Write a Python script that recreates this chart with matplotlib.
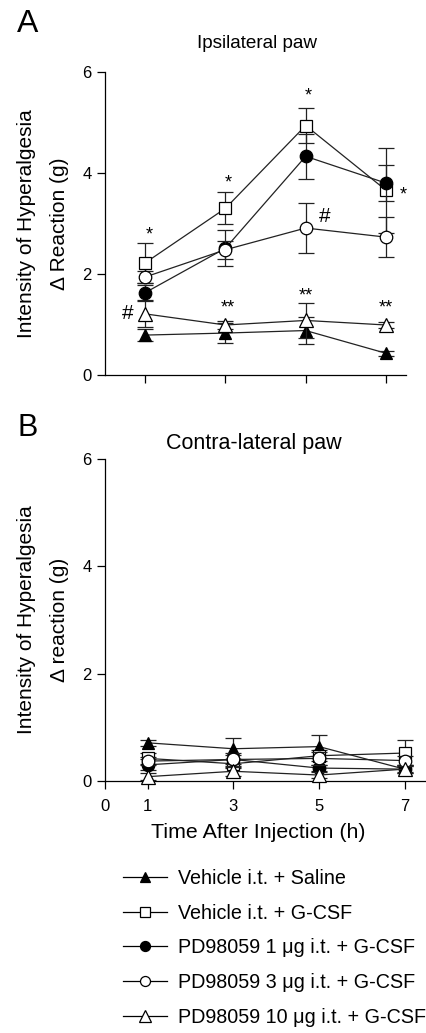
import numpy as np
import matplotlib
matplotlib.use("Agg")
import matplotlib.pyplot as plt
from matplotlib.lines import Line2D

plt.rcParams["font.family"] = ["Liberation Sans", "DejaVu Sans"]

# time points (h)
hours = [1, 3, 5, 7]

groups = [
    "Vehicle i.t. + Saline",
    "Vehicle i.t. + G-CSF",
    "PD98059 1 \u03bcg i.t. + G-CSF",
    "PD98059 3 \u03bcg i.t. + G-CSF",
    "PD98059 10 \u03bcg i.t. + G-CSF",
]

# Ipsilateral paw: mean and SEM
ipsi_saline = [0.79, 0.83, 0.88, 0.43]
ipsi_saline_err = [0.12, 0.20, 0.26, 0.05]
ipsi_gcsf = [2.22, 3.30, 4.94, 3.66]
ipsi_gcsf_err = [0.40, 0.32, 0.35, 0.84]
ipsi_pd1 = [1.63, 2.51, 4.33, 3.80]
ipsi_pd1_err = [0.15, 0.36, 0.45, 0.36]
ipsi_pd3 = [1.94, 2.48, 2.91, 2.73]
ipsi_pd3_err = [0.12, 0.18, 0.50, 0.39]
ipsi_pd10 = [1.21, 0.99, 1.08, 0.99]
ipsi_pd10_err = [0.25, 0.08, 0.35, 0.05]

# Contra-lateral paw: mean and SEM
contra_saline = [0.71, 0.60, 0.64, 0.22]
contra_saline_err = [0.05, 0.20, 0.22, 0.08]
contra_gcsf = [0.42, 0.32, 0.47, 0.52]
contra_gcsf_err = [0.10, 0.08, 0.10, 0.24]
contra_pd1 = [0.30, 0.40, 0.24, 0.22]
contra_pd1_err = [0.10, 0.12, 0.06, 0.08]
contra_pd3 = [0.37, 0.40, 0.42, 0.38]
contra_pd3_err = [0.08, 0.08, 0.12, 0.08]
contra_pd10 = [0.08, 0.18, 0.11, 0.22]
contra_pd10_err = [0.06, 0.08, 0.06, 0.06]

# significance marks on panel A: (x, y, text)
ipsi_marks = [
    (1.1, 2.78, "*"), (3.06, 3.80, "*"), (5.06, 5.52, "*"), (7.43, 3.56, "*"),
    (5.48, 3.13, "#"), (0.57, 1.22, "#"),
    (3.05, 1.33, "**"), (5.0, 1.56, "**"), (7.0, 1.33, "**"),
]

styles = [
    dict(marker="^", mfc="black", ms=9),
    dict(marker="s", mfc="white", ms=8.5),
    dict(marker="o", mfc="black", ms=9),
    dict(marker="o", mfc="white", ms=9),
    dict(marker="^", mfc="white", ms=10),
]
draw_order = [0, 4, 3, 2, 1]


def draw_panel(ax, means, errs):
    for i in draw_order:
        st = styles[i]
        ax.errorbar(hours, means[i], yerr=errs[i], color="#222222", lw=0.9,
                    marker=st["marker"], ms=st["ms"], mfc=st["mfc"], mec="black",
                    mew=0.9, ecolor="#222222", elinewidth=0.9, capsize=6,
                    capthick=0.9, clip_on=False, zorder=3 + i)
    ax.set_ylim(0, 6)
    ax.set_xlim(0, 7.5)
    ax.set_yticks([0, 2, 4, 6])
    ax.spines["top"].set_visible(False)
    ax.spines["right"].set_visible(False)
    ax.spines["left"].set_linewidth(0.9)
    ax.spines["bottom"].set_linewidth(0.9)
    ax.tick_params(direction="out", length=6, width=0.9, labelsize=12)


fig = plt.figure(figsize=(4.26, 10.33), dpi=100)

ax1 = fig.add_axes([0.2465, 0.637, 0.7066, 0.2933])
draw_panel(ax1,
           [ipsi_saline, ipsi_gcsf, ipsi_pd1, ipsi_pd3, ipsi_pd10],
           [ipsi_saline_err, ipsi_gcsf_err, ipsi_pd1_err, ipsi_pd3_err, ipsi_pd10_err])
ax1.set_xticks(hours)
ax1.set_xticklabels([])
ax1.set_ylabel("Intensity of Hyperalgesia\n\u0394 Reaction (g)", fontsize=15,
               linespacing=1.9)
ax1.yaxis.set_label_coords(-0.12, 0.5)
for x, y, s in ipsi_marks:
    fs = 15 if s == "#" else 13
    ax1.text(x, y, s, ha="center", va="center", fontsize=fs, clip_on=False)

ax2 = fig.add_axes([0.2465, 0.244, 0.7535, 0.3117])
draw_panel(ax2,
           [contra_saline, contra_gcsf, contra_pd1, contra_pd3, contra_pd10],
           [contra_saline_err, contra_gcsf_err, contra_pd1_err, contra_pd3_err, contra_pd10_err])
ax2.set_xticks([0] + hours)
ax2.set_xticklabels(["0"] + [str(h) for h in hours])
ax2.tick_params(axis="x", pad=7)
ax2.set_ylabel("Intensity of Hyperalgesia\n\u0394 reaction (g)", fontsize=15,
               linespacing=1.9)
ax2.yaxis.set_label_coords(-0.113, 0.5)
ax2.set_xlabel("Time After Injection (h)", fontsize=15.4)
ax2.xaxis.set_label_coords(0.477, -0.13)

fig.text(0.04, 0.9913, "A", fontsize=23, va="top", ha="left")
fig.text(0.603, 0.958, "Ipsilateral paw", fontsize=13.6, ha="center", va="center")
fig.text(0.042, 0.6002, "B", fontsize=22, va="top", ha="left")
fig.text(0.596, 0.571, "Contra-lateral paw", fontsize=15.5, ha="center", va="center")

handles = [Line2D([], [], color="black", lw=0.9, marker=st["marker"],
                  ms=st["ms"] * 0.8, mfc=st["mfc"], mec="black", mew=0.9)
           for st in styles]
fig.legend(handles, groups, loc="upper left", bbox_to_anchor=(0.289, 0.159),
           frameon=False, fontsize=14.2, handlelength=2.23, handletextpad=0.56,
           labelspacing=0.8, borderaxespad=0, borderpad=0)

plt.savefig("out.png", dpi=100)
plt.close()
